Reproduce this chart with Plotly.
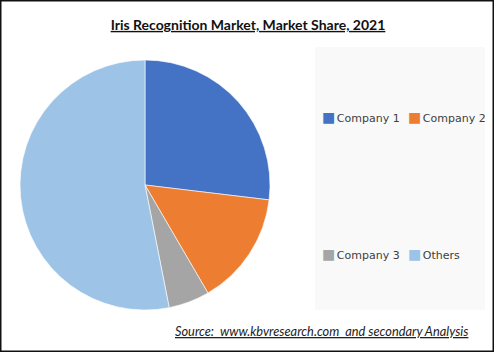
import plotly.graph_objects as go

labels = ["Company 1", "Company 2", "Company 3", "Others"]
shares = [26.9, 14.7, 5.3, 53.1]
colors = ["#4472C4", "#ED7D31", "#A5A5A5", "#9DC3E6"]
title_text = "Iris Recognition Market, Market Share, 2021"
source_text = "Source:  www.kbvresearch.com  and secondary Analysis"

W, H = 494, 352

fig = go.Figure()
fig.add_trace(go.Pie(
    labels=labels, values=shares, sort=False, direction="clockwise", rotation=0,
    marker=dict(colors=colors, line=dict(color="white", width=0.6)),
    textinfo="none", hoverinfo="label+percent", showlegend=False,
    domain=dict(x=[20 / W, 270 / W], y=[1 - 310 / H, 1 - 60 / H]),
))

shapes = [
    # legend panel background
    dict(type="rect", xref="paper", yref="paper", x0=315 / W, x1=485 / W,
         y0=1 - 310 / H, y1=1 - 47 / H, fillcolor="#F9F9F9", line=dict(width=0), layer="below"),
    # outer frame
    dict(type="rect", xref="paper", yref="paper", x0=0, x1=1, y0=0, y1=1,
         line=dict(color="#111111", width=3), fillcolor="rgba(0,0,0,0)"),
]

annotations = [
    dict(text="<i><u>" + source_text + "</u></i>", xref="paper", yref="paper",
         x=321 / W, y=1 - 331 / H, xanchor="center", yanchor="middle", showarrow=False,
         font=dict(family="Lato, sans-serif", size=12.8, color="#222222")),
]

legend_pos = [(320, 117), (406, 117), (320, 254), (406, 254)]
for lab, col, (lx, ly) in zip(labels, colors, legend_pos):
    annotations.append(dict(
        text=f'<span style="color:{col};font-size:14px">■</span><span style="font-size:5px"> </span>{lab}',
        xref="paper", yref="paper", x=lx / W, y=1 - ly / H,
        xanchor="left", yanchor="middle", showarrow=False,
        font=dict(family="DejaVu Sans, sans-serif", size=11, color="#404040")))

fig.update_layout(
    width=W, height=H, margin=dict(l=0, r=0, t=0, b=0),
    paper_bgcolor="white", plot_bgcolor="white",
    title=dict(text="<b><u>" + title_text + "</u></b>", x=248 / W, xanchor="center",
               y=1 - 25 / H, yanchor="middle", yref="container",
               font=dict(family="Lato, sans-serif", size=14, color="#111111")),
    shapes=shapes, annotations=annotations, showlegend=False,
)

fig.write_html("out.html")
